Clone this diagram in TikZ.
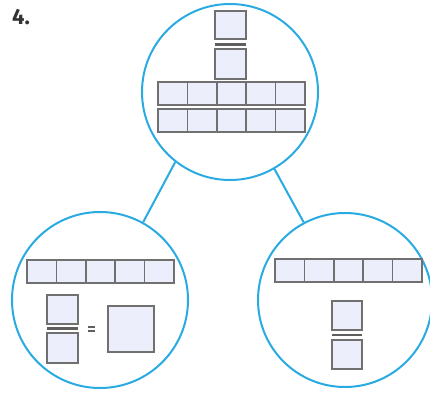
\documentclass[tikz,border=0pt]{standalone}
\usepackage{fontspec}
\setmainfont{Fira Sans}
\definecolor{ring}{HTML}{29ABE2}
\definecolor{cellfill}{HTML}{ECEEFB}
\definecolor{cellline}{HTML}{707070}
\begin{document}
\begin{tikzpicture}[x=1pt,y=-1pt,
  ringc/.style={draw=ring,line width=2pt,circle},
  cellbox/.style={draw=cellline,fill=cellfill,line width=1.6pt},
  fracbar/.style={draw=cellline!85!black,line width=2.2pt},
  joint/.style={draw=ring,line width=2pt}]
\useasboundingbox (0,0) rectangle (430,393);
\clip (0,0) rectangle (430,393);
\node[anchor=base west,font=\bfseries\fontsize{22}{22}\selectfont,text=black!80,inner sep=0pt] (num) at (12,25) {4.};
% circles
\node[ringc,minimum size=176pt,inner sep=0pt] (top) at (230,92) {};
\node[ringc,minimum size=176pt,inner sep=0pt] (left) at (100,300) {};
\node[ringc,minimum size=174pt,inner sep=0pt] (right) at (345,300) {};
\draw[joint] (top.232) -- (left.61);
\draw[joint] (top.300) -- (right.118);
% top circle contents
\draw[cellbox] (215,11) rectangle (246,39);
\draw[fracbar] (215,44.5) -- (246,44.5);
\draw[cellbox] (215,49) rectangle (246,79);
\foreach \i in {0,...,4} {
  \draw[cellbox] (158+29.4*\i,82) rectangle ++(29.4,23);
  \draw[cellbox] (158+29.4*\i,109) rectangle ++(29.4,23);
}
% left circle contents
\foreach \i in {0,...,4} {
  \draw[cellbox] (27+29.4*\i,260) rectangle ++(29.4,23);
}
\draw[cellbox] (47,295) rectangle (78,324);
\draw[fracbar] (47,328.5) -- (78,328.5);
\draw[cellbox] (47,333) rectangle (78,363);
\draw[fracbar,line width=2pt] (88,326.5) -- (95,326.5);
\draw[fracbar,line width=2pt] (88,331) -- (95,331);
\draw[cellbox] (108,306) rectangle (154,352);
% right circle contents
\foreach \i in {0,...,4} {
  \draw[cellbox] (275+29.4*\i,259) rectangle ++(29.4,23);
}
\draw[cellbox] (332,301) rectangle (362,330);
\draw[fracbar] (332,335) -- (362,335);
\draw[cellbox] (332,340) rectangle (362,369);
\end{tikzpicture}
\end{document}
